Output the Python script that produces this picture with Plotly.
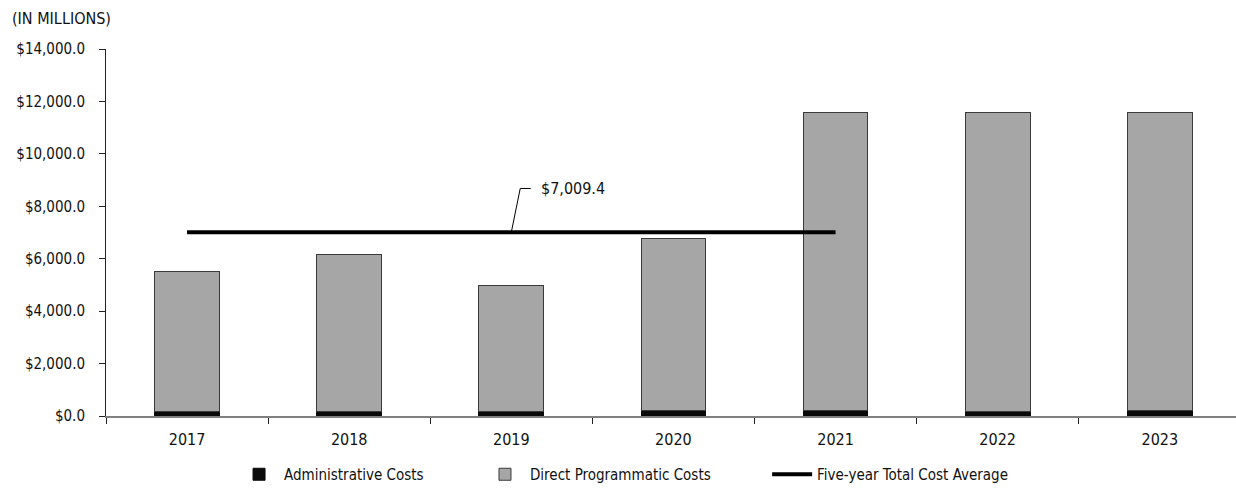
import plotly.graph_objects as go

years = ["2017", "2018", "2019", "2020", "2021", "2022", "2023"]
admin_costs = [175, 190, 180, 205, 215, 190, 195]
total_costs = [5524, 6171, 4990, 6781, 11581, 11570, 11575]
direct_costs = [t - a for t, a in zip(total_costs, admin_costs)]
avg_years = years[:5]
five_year_avg = sum(total_costs[:5]) / 5

FONT = "DejaVu Sans Condensed, Arial Narrow, sans-serif"
PAD = "\u00a0" * 12

fig = go.Figure()
fig.add_trace(go.Bar(
    x=years, y=admin_costs, name="Administrative Costs" + PAD,
    marker=dict(color="#0a0a0a", line=dict(color="#0a0a0a", width=1)),
    width=0.4,
))
fig.add_trace(go.Bar(
    x=years, y=direct_costs, name="Direct Programmatic Costs" + PAD,
    marker=dict(color="#a6a6a6", line=dict(color="#3a3a3a", width=1)),
    width=0.4,
))
fig.add_trace(go.Scatter(
    x=avg_years, y=[five_year_avg] * len(avg_years), mode="lines",
    name="Five-year Total Cost Average",
    line=dict(color="#000000", width=4),
))

# leader line for the average label
px_per_unit = 369 / 14000
lead_up = 44 / px_per_unit
fig.add_shape(type="path", xref="x", yref="y",
              path=f"M 2,{five_year_avg} L 2.055,{five_year_avg + lead_up} L 2.12,{five_year_avg + lead_up}",
              line=dict(color="#000000", width=1))
fig.add_annotation(x=2.17, y=five_year_avg + lead_up, xref="x", yref="y",
                   text=f"${five_year_avg:,.1f}", showarrow=False,
                   xanchor="left", yanchor="middle",
                   font=dict(family=FONT, size=16, color="#111"))

fig.add_annotation(x=-0.085, y=1.084, xref="paper", yref="paper", xanchor="left", yanchor="middle",
                   text="(IN MILLIONS)", showarrow=False,
                   font=dict(family=FONT, size=16, color="#111"))

fig.update_layout(
    barmode="stack",
    width=1236, height=491,
    margin=dict(l=106, r=0, t=49, b=73),
    plot_bgcolor="white", paper_bgcolor="white",
    font=dict(family=FONT, size=15, color="#111"),
    showlegend=True,
    legend=dict(orientation="h", x=0.458, xanchor="center", y=-0.16, yanchor="middle",
                font=dict(family=FONT, size=15, color="#111"), itemwidth=40,
                traceorder="normal"),
    xaxis=dict(
        type="category", range=[-0.5, 6.47],
        showline=True, linecolor="#808080", linewidth=1.5,
        ticks="outside", tickson="boundaries", ticklen=6, tickcolor="#222",
        showgrid=False, tickfont=dict(family=FONT, size=16, color="#111"),
        ticklabelstandoff=8,
    ),
    yaxis=dict(
        range=[0, 14000], dtick=2000, tickprefix="$", tickformat=",.1f",
        showline=True, linecolor="#222", linewidth=1,
        ticks="outside", ticklen=6, tickcolor="#222",
        showgrid=False, zeroline=False,
        tickfont=dict(family=FONT, size=15, color="#111"),
        ticklabelstandoff=11,
    ),
)

fig.write_html("out.html")
